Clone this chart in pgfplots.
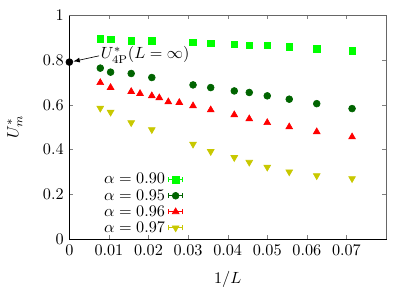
\documentclass[border=0pt]{standalone}
\usepackage{pgfplots}
\pgfplotsset{compat=1.18}
\definecolor{cgreen}{HTML}{00FF00}
\definecolor{cdgreen}{HTML}{006400}
\definecolor{cred}{HTML}{FF0000}
\definecolor{cyellow}{HTML}{C8C800}
\pgfplotsset{
  errlegend/.style={legend image code/.code={
    \draw[##1,mark=none,solid,line width=0.5pt] (0pt,0pt) -- (8.6pt,0pt)
      (0pt,-1.5pt) -- (0pt,1.5pt) (8.6pt,-1.5pt) -- (8.6pt,1.5pt);
    \draw[##1,only marks] plot coordinates {(4.3pt,0pt)};
  }}
}
\begin{document}
\begin{tikzpicture}
\begin{axis}[
  scale only axis, width=195.4pt, height=137.9pt,
  xmin=0, xmax=0.08, ymin=0, ymax=1,
  xtick={0,0.01,0.02,0.03,0.04,0.05,0.06,0.07},
  ytick={0,0.2,0.4,0.6,0.8,1},
  scaled x ticks=false,
  xticklabel style={/pgf/number format/fixed,/pgf/number format/precision=2},
  yticklabel style={/pgf/number format/fixed,/pgf/number format/precision=1},
  tick align=inside, major tick length=2.5pt,
  xlabel={$1/L$}, ylabel={$U_m^*$},
  xlabel style={at={(axis description cs:0.5,-0.183)},anchor=center},
  ylabel style={at={(axis description cs:-0.172,0.5)},anchor=center},
  clip=false,
  legend plot pos=right,
  legend cell align=right,
  legend style={at={(axis cs:0.0288,0.012)}, anchor=south east, draw=none, fill=none,
    inner sep=0pt, row sep=0pt,
    nodes={inner ysep=1pt, inner xsep=2pt, text height=6.6pt, text depth=1.3pt}},
]
\coordinate (sw) at (rel axis cs:0,0);
\addplot[only marks, mark=square*, mark size=2pt, color=cgreen, errlegend] coordinates {
(0.0078125,0.895) (0.0104167,0.894) (0.015625,0.887) (0.0208333,0.886)
(0.03125,0.880) (0.0357143,0.876) (0.0416667,0.871) (0.0454545,0.867)
(0.05,0.865) (0.0555556,0.860) (0.0625,0.851) (0.0714286,0.842)};
\addlegendentry{$\alpha=0.90$}
\addplot[only marks, mark=*, mark size=2.1pt, color=cdgreen, errlegend] coordinates {
(0.0078125,0.764) (0.0104167,0.746) (0.015625,0.740) (0.0208333,0.722)
(0.03125,0.689) (0.0357143,0.677) (0.0416667,0.662) (0.0454545,0.655)
(0.05,0.640) (0.0555556,0.625) (0.0625,0.605) (0.0714286,0.583)};
\addlegendentry{$\alpha=0.95$}
\addplot[only marks, mark=triangle*, mark size=2.4pt, color=cred, errlegend] coordinates {
(0.0078125,0.699) (0.0104167,0.677) (0.015625,0.659) (0.0178571,0.650)
(0.0208333,0.640) (0.0227273,0.631) (0.025,0.613) (0.0277778,0.610)
(0.03125,0.595) (0.0357143,0.577) (0.0416667,0.555) (0.0454545,0.537)
(0.05,0.520) (0.0555556,0.501) (0.0625,0.479) (0.0714286,0.456)};
\addlegendentry{$\alpha=0.96$}
\addplot[only marks, mark=triangle*, mark options={rotate=180}, mark size=2.4pt, color=cyellow, errlegend] coordinates {
(0.0078125,0.585) (0.0104167,0.567) (0.015625,0.520) (0.0208333,0.489)
(0.03125,0.424) (0.0357143,0.391) (0.0416667,0.364) (0.0454545,0.343)
(0.05,0.321) (0.0555556,0.300) (0.0625,0.283) (0.0714286,0.270)};
\addlegendentry{$\alpha=0.97$}
\addplot[only marks, mark=*, mark size=2.1pt, color=black, forget plot] coordinates {(0,0.791)};
\draw[gray!80!black, line width=0.6pt] (rel axis cs:0,1) -- (rel axis cs:1,1) -- (rel axis cs:1,0);
\draw[-latex, thin] (axis cs:0.0075,0.819) -- (axis cs:0.001,0.794);
\node[anchor=west, inner sep=0pt] at (axis cs:0.0079,0.823) {$U^*_{4\mathrm{P}}(L=\infty)$};
\end{axis}
\pgfresetboundingbox
\path (sw) ++(-42.8pt,-32.1pt) rectangle ++(256.1pt,179.5pt);
\end{tikzpicture}
\end{document}
